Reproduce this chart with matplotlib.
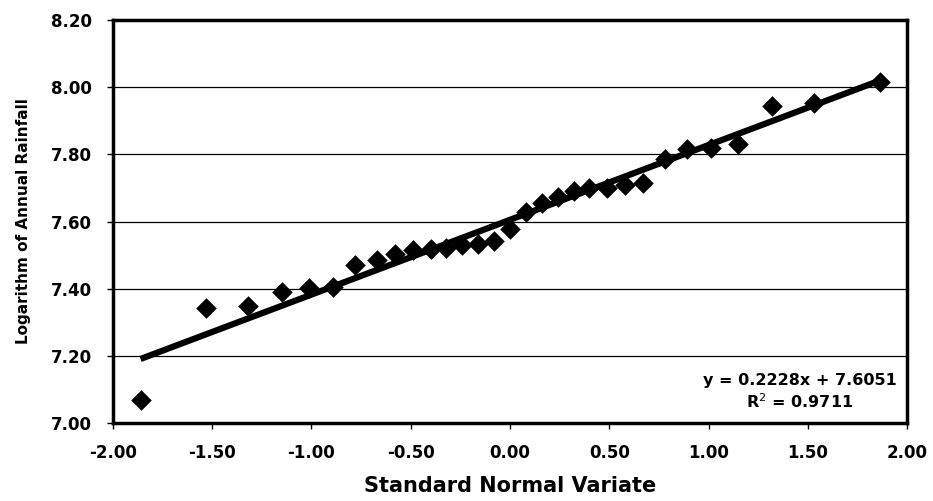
import matplotlib
matplotlib.use("Agg")
import matplotlib.pyplot as plt

plt.rcParams['font.family'] = ['DejaVu Sans']

# standard normal variate (plotting positions) and log of annual rainfall
variate = [-1.86, -1.53, -1.32, -1.15, -1.01, -0.89, -0.78, -0.67, -0.58, -0.49,
           -0.40, -0.32, -0.24, -0.16, -0.08, 0.00, 0.08, 0.16, 0.24, 0.32,
           0.40, 0.49, 0.58, 0.67, 0.78, 0.89, 1.01, 1.15, 1.32, 1.53, 1.86]
log_rain = [7.069, 7.342, 7.348, 7.389, 7.401, 7.405, 7.471, 7.484, 7.504, 7.515,
            7.518, 7.521, 7.530, 7.532, 7.543, 7.578, 7.627, 7.654, 7.673, 7.690,
            7.699, 7.701, 7.708, 7.715, 7.785, 7.815, 7.820, 7.831, 7.943, 7.954,
            8.016]

# linear trendline reported on the chart
slope = 0.2228
intercept = 7.6051
r_squared = 0.9711

x_ticks = [-2.0, -1.5, -1.0, -0.5, 0.0, 0.5, 1.0, 1.5, 2.0]
y_ticks = [7.0, 7.2, 7.4, 7.6, 7.8, 8.0, 8.2]

fig = plt.figure(figsize=(9.33, 5.01), dpi=100)
ax = fig.add_axes([0.1208, 0.1557, 0.8517, 0.8043])

ax.set_xlim(-2.0, 2.0)
ax.set_ylim(7.0, 8.2)
ax.set_xticks(x_ticks)
ax.set_yticks(y_ticks)
ax.set_xticklabels(['%.2f' % v for v in x_ticks], fontsize=12, fontweight='bold')
ax.set_yticklabels(['%.2f' % v for v in y_ticks], fontsize=12, fontweight='bold')
ax.tick_params(axis='both', direction='out', length=4, width=1, color='black', pad=11)

ax.yaxis.grid(True, color='black', linewidth=0.9)
ax.set_axisbelow(True)
for side in ax.spines.values():
    side.set_linewidth(2.5)
    side.set_color('black')

# trendline across the data range
x0, x1 = min(variate), max(variate)
ax.plot([x0, x1], [intercept + slope * x0, intercept + slope * x1],
        color='black', linewidth=4.5, solid_capstyle='butt', zorder=3)

ax.scatter(variate, log_rain, marker='D', s=110, color='black', zorder=4,
           linewidths=0)

ax.text(0.865, 0.077, 'y = %.4fx + %.4f\nR$^{2}$ = %.4f' % (slope, intercept, r_squared),
        transform=ax.transAxes, ha='center', va='center', fontsize=11.5,
        fontweight='bold', linespacing=1.3)

ax.set_xlabel('Standard Normal Variate', fontsize=15, fontweight='bold', labelpad=10)
ax.set_ylabel('Logarithm of Annual Rainfall', fontsize=11, fontweight='bold', labelpad=14)

fig.savefig('out.png', dpi=100)
